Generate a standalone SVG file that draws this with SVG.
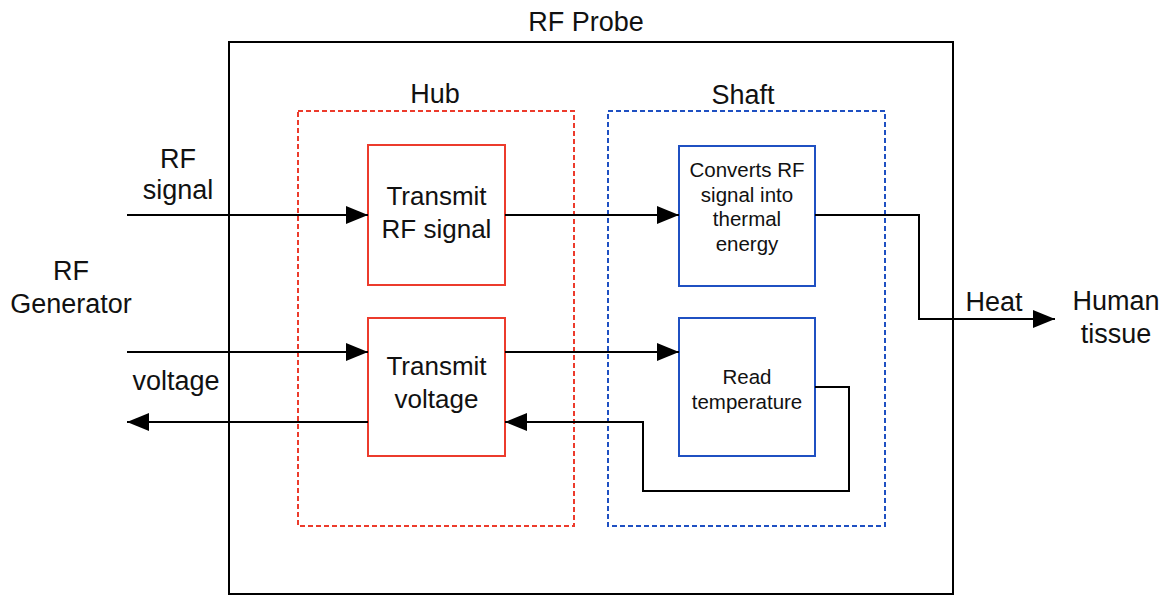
<svg xmlns="http://www.w3.org/2000/svg" width="1169" height="595" viewBox="0 0 1169 595">
  <style>
    .lbl { font-family: "Liberation Sans", Arial, Helvetica, sans-serif; fill: #111; text-anchor: middle; }
    .big { font-size: 27px; }
    .box { font-size: 26px; }
    .small { font-size: 20.5px; }
    .frame { fill: none; stroke: #000; stroke-width: 2; }
    .hub { fill: none; stroke: #ec3b2c; stroke-width: 2; stroke-dasharray: 5 3; }
    .shaft { fill: none; stroke: #1f50c2; stroke-width: 2; stroke-dasharray: 5 3; }
    .red { fill: #fff; stroke: #ec3b2c; stroke-width: 2; }
    .blue { fill: #fff; stroke: #1f50c2; stroke-width: 2; }
    .wire { fill: none; stroke: #000; stroke-width: 2; }
  </style>
  <defs>
    <marker id="arrow" markerUnits="userSpaceOnUse" markerWidth="24" markerHeight="20" refX="22" refY="9" orient="auto">
      <path d="M0,0 L22,9 L0,18 Z" fill="#000"/>
    </marker>
  </defs>

  <rect width="1169" height="595" fill="#fff"/>

  <!-- RF Probe enclosure -->
  <g id="rf-probe">
    <rect class="frame" x="229" y="42" width="724" height="552"/>
    <text class="lbl big" x="586" y="31">RF Probe</text>
  </g>

  <!-- Hub container -->
  <g id="hub">
    <rect class="hub" x="298" y="111" width="276" height="415"/>
    <text class="lbl big" x="435" y="103">Hub</text>
  </g>

  <!-- Shaft container -->
  <g id="shaft">
    <rect class="shaft" x="608" y="111" width="277" height="415"/>
    <text class="lbl big" x="743" y="104">Shaft</text>
  </g>

  <!-- External: RF Generator -->
  <g id="rf-generator">
    <text class="lbl big" x="71" y="280">RF</text>
    <text class="lbl big" x="71" y="313">Generator</text>
  </g>

  <!-- External: Human tissue -->
  <g id="human-tissue">
    <text class="lbl big" x="1116" y="310">Human</text>
    <text class="lbl big" x="1116" y="343">tissue</text>
  </g>

  <g id="transmit-rf-signal">
    <rect class="red" x="368" y="145" width="137" height="140"/>
    <text class="lbl box" x="436.5" y="205">Transmit</text>
    <text class="lbl box" x="436.5" y="238">RF signal</text>
  </g>

  <g id="transmit-voltage">
    <rect class="red" x="368" y="318" width="137" height="138"/>
    <text class="lbl box" x="436.5" y="375">Transmit</text>
    <text class="lbl box" x="436.5" y="408">voltage</text>
  </g>

  <g id="converts-rf">
    <rect class="blue" x="679" y="146" width="136" height="140"/>
    <text class="lbl small" x="747" y="177">Converts RF</text>
    <text class="lbl small" x="747" y="201.5">signal into</text>
    <text class="lbl small" x="747" y="226">thermal</text>
    <text class="lbl small" x="747" y="250.5">energy</text>
  </g>

  <g id="read-temperature">
    <rect class="blue" x="679" y="318" width="136" height="138"/>
    <text class="lbl small" x="747" y="384">Read</text>
    <text class="lbl small" x="747" y="409">temperature</text>
  </g>

  <!-- Connectors and their labels -->
  <g id="connectors">
    <path class="wire" d="M127,215 H368" marker-end="url(#arrow)"/>
    <path class="wire" d="M505,215 H679" marker-end="url(#arrow)"/>
    <path class="wire" d="M815,215 H919 V319 H1055" marker-end="url(#arrow)"/>
    <path class="wire" d="M127,352 H368" marker-end="url(#arrow)"/>
    <path class="wire" d="M505,352 H679" marker-end="url(#arrow)"/>
    <path class="wire" d="M815,387 H849 V491 H643 V422 H505" marker-end="url(#arrow)"/>
    <path class="wire" d="M368,422 H127" marker-end="url(#arrow)"/>
    <text class="lbl big" x="178" y="168">RF</text>
    <text class="lbl big" x="178" y="199">signal</text>
    <text class="lbl big" x="176" y="390">voltage</text>
    <text class="lbl big" x="994" y="311">Heat</text>
  </g>
</svg>
